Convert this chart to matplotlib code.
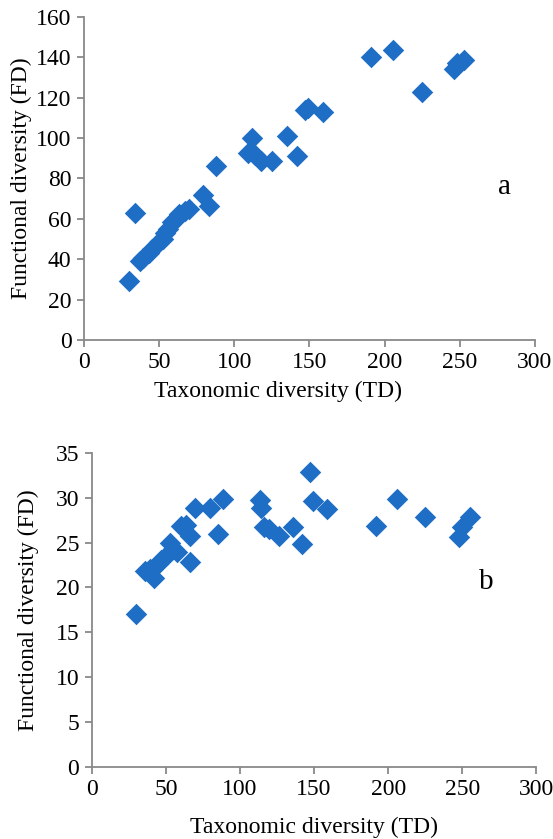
import matplotlib
matplotlib.use("Agg")
import matplotlib.pyplot as plt

# panel a: functional vs taxonomic diversity
td_a = [30, 34, 37, 39, 43, 45.5, 50, 52.5, 54, 56, 58.5, 61, 63, 67, 70, 79, 83, 88,
        109, 111.5, 114, 117.5, 125, 135, 142, 147, 149, 159, 191, 205.5, 225, 246, 248.5, 253]
fd_a = [29, 63, 39, 40.5, 43, 45, 48.5, 50, 53, 55, 58.5, 60, 62.5, 64, 65, 72, 66.5, 86,
        92.5, 100, 91.5, 88.5, 88.5, 101, 91, 114, 115, 113, 140, 143.5, 123, 134, 137, 138.5]

# panel b
td_b = [30, 36, 39.5, 42, 44.5, 47, 51.5, 53, 55, 57.5, 60, 63.5, 66, 66, 69.5, 80, 85, 88.5,
        113.5, 114.5, 116, 119.5, 126.5, 136, 142, 147, 149, 158.5, 192, 206, 225, 247.5, 250, 255]
fd_b = [17, 21.8, 22, 21.1, 22.6, 23.1, 23.7, 25, 24.3, 23.9, 26.9, 27, 25.7, 22.8, 28.9, 28.9, 25.9, 29.9,
        29.7, 28.9, 26.7, 26.5, 25.7, 26.7, 24.8, 32.9, 29.6, 28.7, 26.9, 29.9, 27.8, 25.6, 26.7, 27.8]

x_ticks = [0, 50, 100, 150, 200, 250, 300]
y_ticks_a = [0, 20, 40, 60, 80, 100, 120, 140, 160]
y_ticks_b = [0, 5, 10, 15, 20, 25, 30, 35]

plt.rcParams['font.family'] = ['Liberation Serif', 'DejaVu Serif']

blue = '#1f6ec6'
grey = '#898989'

fig = plt.figure(figsize=(5.53, 8.39), dpi=100)
ax1 = fig.add_axes([0.152, 0.5948, 0.815, 0.385])
ax2 = fig.add_axes([0.166, 0.0862, 0.804, 0.374])


def style_axis(ax, yticks, ylabelpad):
    ax.set_xlim(0, 300)
    ax.set_ylim(yticks[0], yticks[-1])
    ax.set_xticks(x_ticks)
    ax.set_yticks(yticks)
    for side in ['top', 'right']:
        ax.spines[side].set_visible(False)
    for side in ['left', 'bottom']:
        ax.spines[side].set_color(grey)
        ax.spines[side].set_linewidth(1.3)
    ax.tick_params(direction='out', length=5, width=1.3, color=grey,
                   labelsize=17, pad=4)
    ax.set_xlabel('Taxonomic diversity (TD)', fontsize=17, labelpad=12)
    ax.set_ylabel('Functional diversity (FD)', fontsize=17, labelpad=ylabelpad)


ax1.scatter(td_a, fd_a, marker='D', s=120, color=blue, linewidths=0, clip_on=False, zorder=3)
style_axis(ax1, y_ticks_a, 3)
ax1.xaxis.set_label_coords(0.43, -0.125)
ax1.text(280, 76, 'a', fontsize=21, ha='center', va='center')

ax2.scatter(td_b, fd_b, marker='D', s=120, color=blue, linewidths=0, clip_on=False, zorder=3)
style_axis(ax2, y_ticks_b, 12)
ax2.text(266, 20.6, 'b', fontsize=21, ha='center', va='center')

fig.savefig('out.png', dpi=100)
